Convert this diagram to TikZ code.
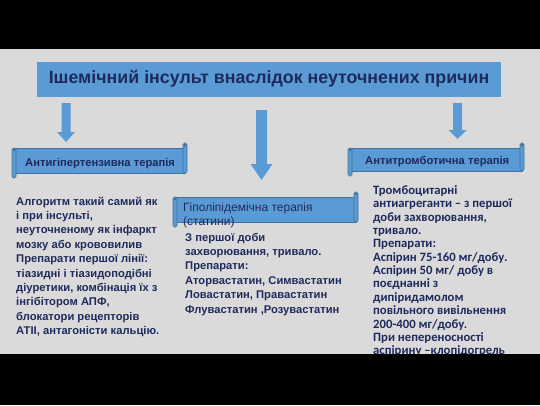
\documentclass[tikz,border=0pt]{standalone}
\usepackage{fontspec}
\setmainfont{Carlito}
\newfontfamily\arialf{Liberation Sans}[BoldFont={Liberation Sans Bold}]
\definecolor{bgray}{HTML}{DADADA}
\definecolor{boxblue}{HTML}{5B9BD5}
\definecolor{edgeblue}{HTML}{41719C}
\definecolor{navy}{HTML}{1F2A5C}
\newcommand\scrollbanner[4]{%
  \filldraw[fill=boxblue, draw=edgeblue, line width=0.6pt] ({#1+2},{#2+5}) rectangle ({#3-2},{#4-5});
  \filldraw[fill=boxblue, draw=edgeblue, line width=0.6pt, rounded corners=1.5pt] (#1,{#2+5}) rectangle ({#1+4},#4);
  \filldraw[fill=boxblue, draw=edgeblue, line width=0.6pt, rounded corners=1.5pt] ({#3-4},#2) rectangle (#3,{#4-5});
  \fill[edgeblue] ({#3-2},{#2+2}) circle (1.6pt);
  \fill[edgeblue] ({#1+2},{#2+7}) circle (1.4pt);
}
\newcommand\blockarrow[6]{%
  \fill[boxblue] ({#1-#5},#2) -- ({#1+#5},#2) -- ({#1+#5},#3) -- ({#1+#6},#3) -- (#1,#4) -- ({#1-#6},#3) -- ({#1-#5},#3) -- cycle;
}
\tikzset{
  body/.style={anchor=base west, inner sep=0, text=navy, font=\arialf\bfseries\fontsize{11.2}{13}\selectfont},
  mbody/.style={body},
  rbody/.style={body, font=\bfseries\fontsize{12.7}{14}\selectfont},
  bannertext/.style={anchor=base west, inner sep=0, text=navy, font=\arialf\bfseries\fontsize{11.2}{13}\selectfont},
}
\begin{document}
\begin{tikzpicture}[x=1pt,y=-1pt]
\useasboundingbox (0,0) rectangle (540,405);
\fill[bgray] (0,0) rectangle (540,405);

% title
\node[fill=boxblue, minimum width=464pt, minimum height=35pt, inner sep=0,
      text=navy, font=\arialf\bfseries\fontsize{17.8}{20}\selectfont] (title) at (269,79)
      {Ішемічний інсульт внаслідок неуточнених причин};

% arrows
\blockarrow{66}{103}{132}{142}{4.5}{9}
\blockarrow{261.5}{110}{164}{180}{5.5}{11}
\blockarrow{457.5}{103}{130}{139}{4.5}{9}

% banners
\scrollbanner{12}{143}{187}{178}
\node[bannertext] (b1) at (25,166) {Антигіпертензивна терапія};
\scrollbanner{173}{192}{358}{227}
\node[bannertext, font=\arialf\fontsize{12}{14}\selectfont] (b2a) at (183,211) {Гіполіпідемічна терапія};
\node[bannertext, font=\arialf\fontsize{12}{14}\selectfont] (b2b) at (183,225) {(статини)};
\scrollbanner{348}{143}{524}{176}
\node[bannertext] (b3) at (365,164) {Антитромботична терапія};

% left text
\foreach \t [count=\i] in {Алгоритм такий самий як, і при інсульті{,}, неуточненому як інфаркт, мозку або крововилив, Препарати першої лінії:, тіазидні і тіазидоподібні, діуретики{,} комбінація їх з, інгібітором АПФ{,}, блокатори рецепторів, АТІІ{,} антагоністи кальцію.}
  \node[body] (l\i) at (16,{205+14.4*(\i-1)}) {\t};

% middle text
\foreach \t [count=\i] in {З першої доби, захворювання{,} тривало., Препарати:, Аторвастатин{,} Симвастатин, Ловастатин{,} Правастатин, {Флувастатин ,Розувастатин}}
  \node[mbody] (m\i) at (185,{241+14.45*(\i-1)}) {\t};

% right text
\foreach \t [count=\i] in {Тромбоцитарні, антиагреганти – з першої, доби захворювання{,}, тривало., Препарати:, Аспірин 75-160 мг/добу., Аспірин 50 мг/ добу в, поєднанні з, дипіридамолом, повільного вивільнення, 200-400 мг/добу., При непереносності, аспірину –клопідогрель}
  \node[rbody] (r\i) at (373,{194.5+13.35*(\i-1)}) {\t};

% black bands
\fill[black] (0,0) rectangle (540,49);
\fill[black] (0,354) rectangle (540,405);
\end{tikzpicture}
\end{document}
